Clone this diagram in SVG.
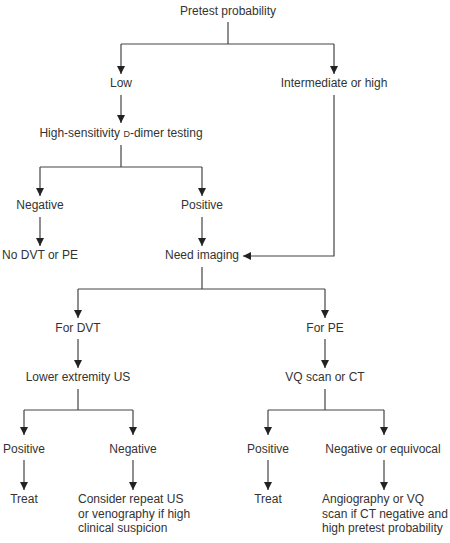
<svg xmlns="http://www.w3.org/2000/svg" width="450" height="543" viewBox="0 0 450 543">
<style>
text{font-family:"Liberation Sans",Arial,sans-serif;font-size:12px;fill:#333}
.c{text-anchor:middle}
.l{fill:none;stroke:#444;stroke-width:1.2}
.sc{font-size:9px}
</style>
<defs>
<marker id="a" markerUnits="userSpaceOnUse" markerWidth="8" markerHeight="10" refX="8" refY="4" orient="auto" viewBox="0 0 8 8"><path d="M0,0 L8,4 L0,8 z" fill="#222"/></marker>
</defs>
<rect width="450" height="543" fill="#fff"/>
<g id="connectors">
<path class="l" d="M228,22 V44 M121,44 H334"/>
<path class="l" d="M121,44 V74" marker-end="url(#a)"/>
<path class="l" d="M334,44 V74" marker-end="url(#a)"/>
<path class="l" d="M121,95 V123" marker-end="url(#a)"/>
<path class="l" d="M334,95 V256 H243" marker-end="url(#a)"/>
<path class="l" d="M121,145 V167 M40,167 H202"/>
<path class="l" d="M40,167 V196" marker-end="url(#a)"/>
<path class="l" d="M202,167 V196" marker-end="url(#a)"/>
<path class="l" d="M40,217 V246" marker-end="url(#a)"/>
<path class="l" d="M202,217 V246" marker-end="url(#a)"/>
<path class="l" d="M202,267 V289 M78,289 H325"/>
<path class="l" d="M78,289 V318" marker-end="url(#a)"/>
<path class="l" d="M325,289 V318" marker-end="url(#a)"/>
<path class="l" d="M78,339 V368" marker-end="url(#a)"/>
<path class="l" d="M325,339 V368" marker-end="url(#a)"/>
<path class="l" d="M78,389 V410 M24,410 H133"/>
<path class="l" d="M325,389 V410 M268,410 H384"/>
<path class="l" d="M24,410 V435" marker-end="url(#a)"/>
<path class="l" d="M133,410 V435" marker-end="url(#a)"/>
<path class="l" d="M268,410 V435" marker-end="url(#a)"/>
<path class="l" d="M384,410 V435" marker-end="url(#a)"/>
<path class="l" d="M24,460 V490" marker-end="url(#a)"/>
<path class="l" d="M133,460 V490" marker-end="url(#a)"/>
<path class="l" d="M268,460 V490" marker-end="url(#a)"/>
<path class="l" d="M384,460 V490" marker-end="url(#a)"/>
</g>
<g id="n-pretest"><text class="c" x="228" y="15">Pretest probability</text></g>
<g id="n-low"><text class="c" x="121" y="87">Low</text></g>
<g id="n-inter"><text class="c" x="334" y="87">Intermediate or high</text></g>
<g id="n-ddimer"><text class="c" x="121" y="137">High-sensitivity <tspan class="sc">D</tspan>-dimer testing</text></g>
<g id="n-neg1"><text class="c" x="40" y="209">Negative</text></g>
<g id="n-pos1"><text class="c" x="202" y="209">Positive</text></g>
<g id="n-nodvt"><text class="c" x="40" y="259">No DVT or PE</text></g>
<g id="n-imaging"><text class="c" x="202" y="259">Need imaging</text></g>
<g id="n-fordvt"><text class="c" x="78" y="332">For DVT</text></g>
<g id="n-forpe"><text class="c" x="325" y="332">For PE</text></g>
<g id="n-us"><text class="c" x="78" y="381">Lower extremity US</text></g>
<g id="n-vq"><text class="c" x="325" y="381">VQ scan or CT</text></g>
<g id="n-pos2"><text class="c" x="24" y="453">Positive</text></g>
<g id="n-neg2"><text class="c" x="133" y="453">Negative</text></g>
<g id="n-pos3"><text class="c" x="268" y="453">Positive</text></g>
<g id="n-neg3"><text class="c" x="383" y="453">Negative or equivocal</text></g>
<g id="n-treat1"><text class="c" x="24" y="503">Treat</text></g>
<g id="n-consider"><text x="78" y="503">Consider repeat US</text><text x="78" y="517.5">or venography if high</text><text x="78" y="532">clinical suspicion</text></g>
<g id="n-treat2"><text class="c" x="268" y="503">Treat</text></g>
<g id="n-angio"><text x="322" y="503">Angiography or VQ</text><text x="322" y="517.5">scan if CT negative and</text><text x="322" y="532">high pretest probability</text></g>
</svg>
